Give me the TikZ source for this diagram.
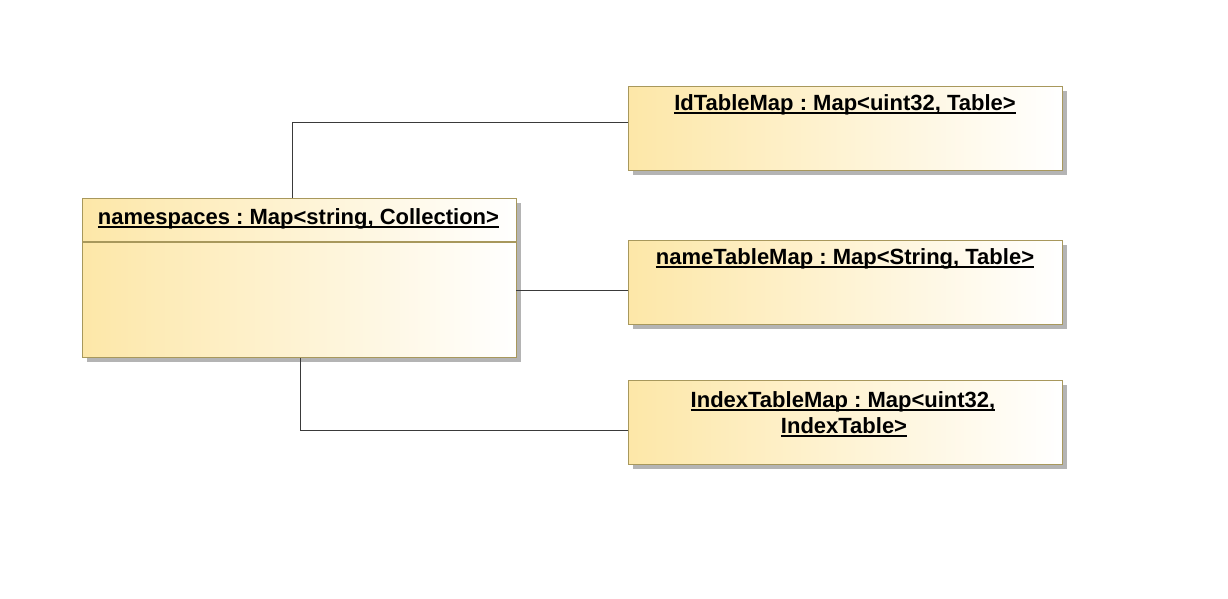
\documentclass[tikz,border=0pt]{standalone}
\usepackage{fontspec}
\setmainfont{Liberation Sans}
\frenchspacing
\definecolor{boxborder}{HTML}{A8985C}
\definecolor{boxfill}{HTML}{FDE7A8}
\definecolor{shadowgray}{HTML}{B4B4B4}
\definecolor{wire}{HTML}{3A3A3A}
\tikzset{
  px/.style={x=1pt,y=-1pt},
  umlbox/.style={rectangle, inner sep=0pt, anchor=north west, draw=boxborder, line width=1.3pt, left color=boxfill, right color=white, shading angle=90},
  title/.style={font=\bfseries\fontsize{22}{26}\selectfont, inner sep=0pt, anchor=base},
  wireline/.style={draw=wire, line width=1pt},
}
\newcommand{\ulx}[1]{\setbox0\hbox{#1}\rlap{\rule[-3.5pt]{\wd0}{1.6pt}}\box0}
\begin{document}
\begin{tikzpicture}[px]
\useasboundingbox (0,0) rectangle (1228,598);
% shadows
\fill[shadowgray] (87,203) rectangle (521,362);
\fill[shadowgray] (633,91) rectangle (1067,175);
\fill[shadowgray] (633,245) rectangle (1067,329);
\fill[shadowgray] (633,385) rectangle (1067,469);
% boxes
\node[umlbox, minimum width=434pt, minimum height=159pt] (ns) at (82,198) {};
\draw[draw=boxborder, line width=1.3pt] (82,242) -- (516,242);
\node[umlbox, minimum width=434pt, minimum height=84pt] (id) at (628,86) {};
\node[umlbox, minimum width=434pt, minimum height=84pt] (nm) at (628,240) {};
\node[umlbox, minimum width=434pt, minimum height=84pt] (ix) at (628,380) {};
% titles
\node[title] (nst) at (298.5,224) {\ulx{namespaces : Map<string, Collection>}};
\node[title] (idt) at (845,110) {\ulx{IdTableMap : Map<uint32, Table>}};
\node[title] (nmt) at (845,264) {\ulx{nameTableMap : Map<String, Table>}};
\node[title] (ixt) at (843,407) {\ulx{IndexTableMap : Map<uint32,}};
\node[title] (ixt2) at (844,433) {\ulx{IndexTable>}};
% connectors
\coordinate (c1) at (292,122);
\coordinate (c2) at (516,290);
\coordinate (c3) at (300,430);
\draw[wireline] (ns.north west -| c1) -- (c1) -- (id.west |- c1);
\draw[wireline] (c2) -- (nm.west |- c2);
\draw[wireline] (ns.south west -| c3) -- (c3) -- (ix.west |- c3);
\end{tikzpicture}
\end{document}
